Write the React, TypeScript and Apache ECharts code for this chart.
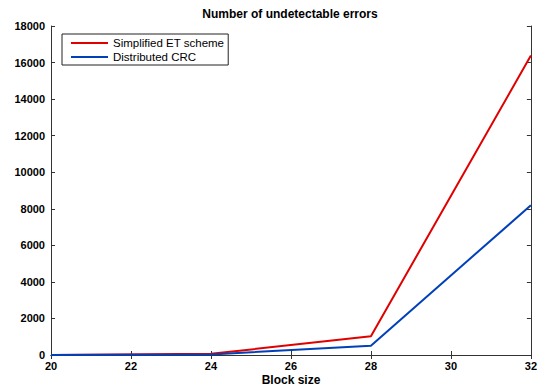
import React, { useEffect, useRef } from "react";
import * as echarts from "echarts";

const blockSizes = [20, 24, 28, 32];
const simplifiedET = [4, 64, 1024, 16384];
const distributedCRC = [2, 32, 512, 8192];
const seriesNames = ["Simplified ET scheme", "Distributed CRC"];
const seriesColors = ["#e00000", "#0040b8"];

export default function App() {
  const ref = useRef<HTMLDivElement>(null);
  useEffect(() => {
    if (!ref.current) return;
    const chart = echarts.init(ref.current, undefined, { renderer: "svg" });
    const font = "Liberation Sans, Arial, sans-serif";
    const boxAxis = {
      axisLine: { show: true, lineStyle: { color: "#333", width: 1 } },
      axisTick: { show: true, inside: true, length: 4, lineStyle: { color: "#333" } },
      splitLine: { show: false },
    };
    chart.setOption({
      animation: false,
      backgroundColor: "#fff",
      title: [
        {
          text: "Number of undetectable errors",
          left: 290,
          top: 8,
          padding: 0,
          textAlign: "center",
          textStyle: { fontFamily: font, fontSize: 12, fontWeight: "bold", color: "#000" },
        },
        {
          text: "Block size",
          left: 291,
          top: 374,
          padding: 0,
          textAlign: "center",
          textStyle: { fontFamily: font, fontSize: 12, fontWeight: "bold", color: "#000" },
        },
      ],
      legend: {
        left: 62,
        top: 34,
        orient: "vertical",
        borderColor: "#222",
        borderWidth: 1,
        padding: [2, 4, 1, 9],
        itemGap: 0,
        itemWidth: 37,
        itemHeight: 2,
        icon: "rect",
        textStyle: { fontFamily: font, fontSize: 11.5, color: "#000", lineHeight: 14 },
        data: seriesNames,
      },
      grid: { left: 51, right: 7, top: 26, bottom: 34 },
      xAxis: [
        {
          type: "value",
          min: 20,
          max: 32,
          interval: 2,
          axisLabel: { fontFamily: font, fontSize: 11, fontWeight: "bold", color: "#000", margin: 5 },
          ...boxAxis,
        },
        {
          type: "value",
          position: "top",
          min: 20,
          max: 32,
          interval: 2,
          axisLabel: { show: false },
          ...boxAxis,
        },
      ],
      yAxis: [
        {
          type: "value",
          min: 0,
          max: 18000,
          interval: 2000,
          axisLabel: {
            fontFamily: font,
            fontSize: 11,
            fontWeight: "bold",
            color: "#000",
            margin: 6,
            formatter: (v: number) => String(v),
          },
          ...boxAxis,
        },
        {
          type: "value",
          position: "right",
          min: 0,
          max: 18000,
          interval: 2000,
          axisLabel: { show: false },
          ...boxAxis,
        },
      ],
      series: [
        {
          name: seriesNames[0],
          type: "line",
          symbol: "none",
          data: blockSizes.map((b, i) => [b, simplifiedET[i]]),
          lineStyle: { color: seriesColors[0], width: 2 },
          itemStyle: { color: seriesColors[0] },
        },
        {
          name: seriesNames[1],
          type: "line",
          symbol: "none",
          data: blockSizes.map((b, i) => [b, distributedCRC[i]]),
          lineStyle: { color: seriesColors[1], width: 2 },
          itemStyle: { color: seriesColors[1] },
        },
      ],
    });
    return () => chart.dispose();
  }, []);
  return (
    <div
      ref={ref}
      style={{ position: "fixed", left: 0, top: 0, width: 540, height: 389 }}
    />
  );
}
